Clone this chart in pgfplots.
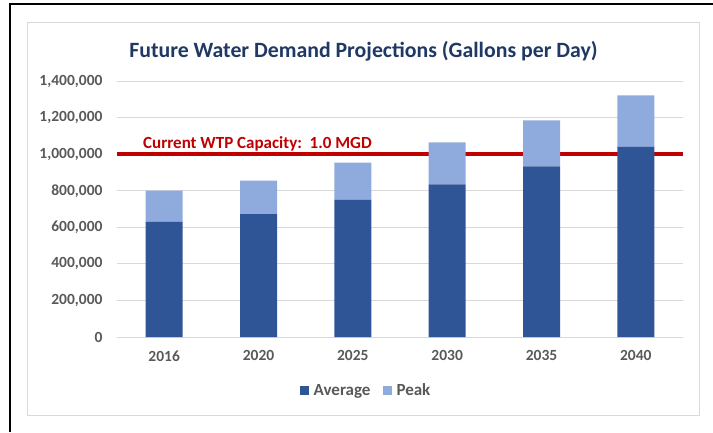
\documentclass[border=0pt]{standalone}
\usepackage{pgfplots}
\pgfplotsset{compat=1.18}
\usepackage{fontspec}
\setmainfont{Carlito}
\definecolor{avgc}{HTML}{2F5597}
\definecolor{peakc}{HTML}{8FAADC}
\definecolor{titlec}{HTML}{1F3864}
\definecolor{redc}{HTML}{C00000}
\definecolor{gridc}{HTML}{D9D9D9}
\definecolor{tickc}{HTML}{595959}
\begin{document}
\begin{tikzpicture}
\path[use as bounding box] (0pt,0pt) rectangle (713pt,432pt);
\draw[black, line width=2.5pt] (10pt,0pt) -- (10pt,428pt) -- (713pt,428pt);
\draw[gridc, line width=1pt] (27pt,17pt) rectangle (699pt,409pt);
\node[text=titlec, font=\fontsize{21.8}{24}\selectfont\bfseries] at (363.5pt,381pt) {Future Water Demand Projections (Gallons per Day)};
\begin{axis}[
  at={(117pt,95pt)}, anchor=south west,
  width=566pt, height=256pt, scale only axis,
  ybar stacked, bar width=37pt,
  xmin=-0.5, xmax=5.5, ymin=0, ymax=1400000,
  xtick=data, xticklabels={2016,2020,2025,2030,2035,2040},
  ytick={0,200000,400000,600000,800000,1000000,1200000,1400000},
  scaled y ticks=false,
  /pgf/number format/.cd, fixed, 1000 sep={,}, assume math mode=true, /pgfplots/.cd,
  ymajorgrids, grid style={gridc, line width=0.8pt},
  axis line style={draw=none},
  major tick length=0pt,
  ticklabel style={font=\fontsize{15.5}{17}\selectfont\bfseries, text=tickc},
  yticklabel style={xshift=-11pt},
  xticklabel style={yshift=-10pt},
  legend style={at={(0.44,-0.21)}, anchor=center, draw=none, fill=none,
    legend columns=2, font=\fontsize{17}{19}\selectfont\bfseries, text=tickc,
    /tikz/every even column/.append style={column sep=10pt},
    /tikz/every odd column/.append style={column sep=0pt}},
  legend cell align=left,
  legend image code/.code={\fill[#1] (0pt,-4.5pt) rectangle (9pt,4.5pt);},
]
\addplot[fill=avgc, draw=none] coordinates {(0,630000) (1,672000) (2,750000) (3,835000) (4,933000) (5,1040000)};
\addplot[fill=peakc, draw=none] coordinates {(0,170000) (1,183000) (2,204000) (3,229000) (4,252000) (5,282000)};
\legend{\hspace{3pt}Average, \hspace{3pt}Peak}
\draw[redc, line width=4pt] (axis cs:-0.5,1000000) -- (axis cs:5.5,1000000);
\node[anchor=base west, text=redc, font=\fontsize{17}{19}\selectfont\bfseries, inner sep=0pt] at ([xshift=26pt, yshift=5.5pt]axis cs:-0.5,1000000) {Current WTP Capacity:\ \ 1.0 MGD};
\end{axis}
\end{tikzpicture}
\end{document}
